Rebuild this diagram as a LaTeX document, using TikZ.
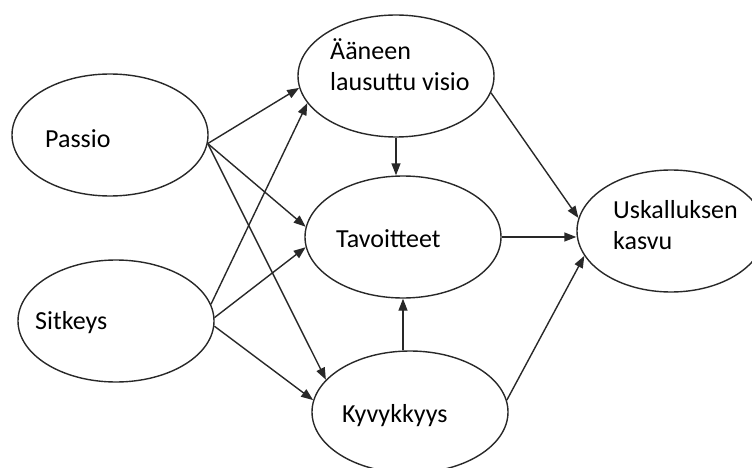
\documentclass[tikz,border=0pt]{standalone}
\usepackage{fontspec}
\setmainfont{Carlito}
\usepackage{tikz}
\usetikzlibrary{arrows.meta,shapes.geometric}
\definecolor{inkgrey}{RGB}{40,40,40}
\tikzset{
  >={Triangle[length=12pt,width=9pt]},
  flow/.style={->, line width=1.4pt, draw=inkgrey},
  oval/.style={
    ellipse,
    draw=inkgrey,
    line width=1.4pt,
    inner sep=0pt,
    minimum width=196pt,
    minimum height=122pt
  },
  ovaltext/.style={anchor=base west, align=left, inner sep=0pt, font=\fontsize{26}{31}\selectfont}
}

\begin{document}
\begin{tikzpicture}[x=1pt, y=-1pt]
  \useasboundingbox (0,0) rectangle (752,468);

  \node[oval] (passio) at (110,135) {};
  \node[oval] (sitkeys) at (116,321) {};
  \node[oval] (visio) at (396,76) {};
  \node[oval] (tavoite) at (403,237) {};
  \node[oval] (kyky) at (410,412) {};
  \node[oval, minimum width=188pt] (kasvu) at (671,231) {};

  % texts sit left of centre in each oval (base = last line)
  \node[ovaltext] (passiotxt) at (45,147) {Passio};
  \node[ovaltext] (sitkeystxt) at (35,329) {Sitkeys};
  \node[ovaltext] (visiotxt) at (330,91) {Ääneen\\lausuttu visio};
  \node[ovaltext] (tavoitetxt) at (336,247) {Tavoitteet};
  \node[ovaltext] (kykytxt) at (342,422) {Kyvykkyys};
  \node[ovaltext] (kasvutxt) at (613,249) {Uskalluksen\\kasvu};

  \draw[flow] (passio.-5) -- (visio.187);
  \draw[flow] (passio.-5) -- (tavoite.174);
  \draw[flow] (passio.-5) -- (kyky.159);

  \draw[flow] (sitkeys.10) -- (visio.197);
  \draw[flow] (sitkeys.2) -- (tavoite.186);
  \draw[flow] (sitkeys.-3) -- (kyky.173);

  \draw[flow] (visio.south) -- (visio.south |- tavoite.north);
  \draw[flow] (kyky.north -| tavoite.south) -- (tavoite.south);

  \draw[flow] (visio.-10) -- (kasvu.172);
  \draw[flow] (tavoite.east) -- (tavoite.east -| kasvu.west);
  \draw[flow] (kyky.7) -- (kasvu.196);
\end{tikzpicture}
\end{document}
